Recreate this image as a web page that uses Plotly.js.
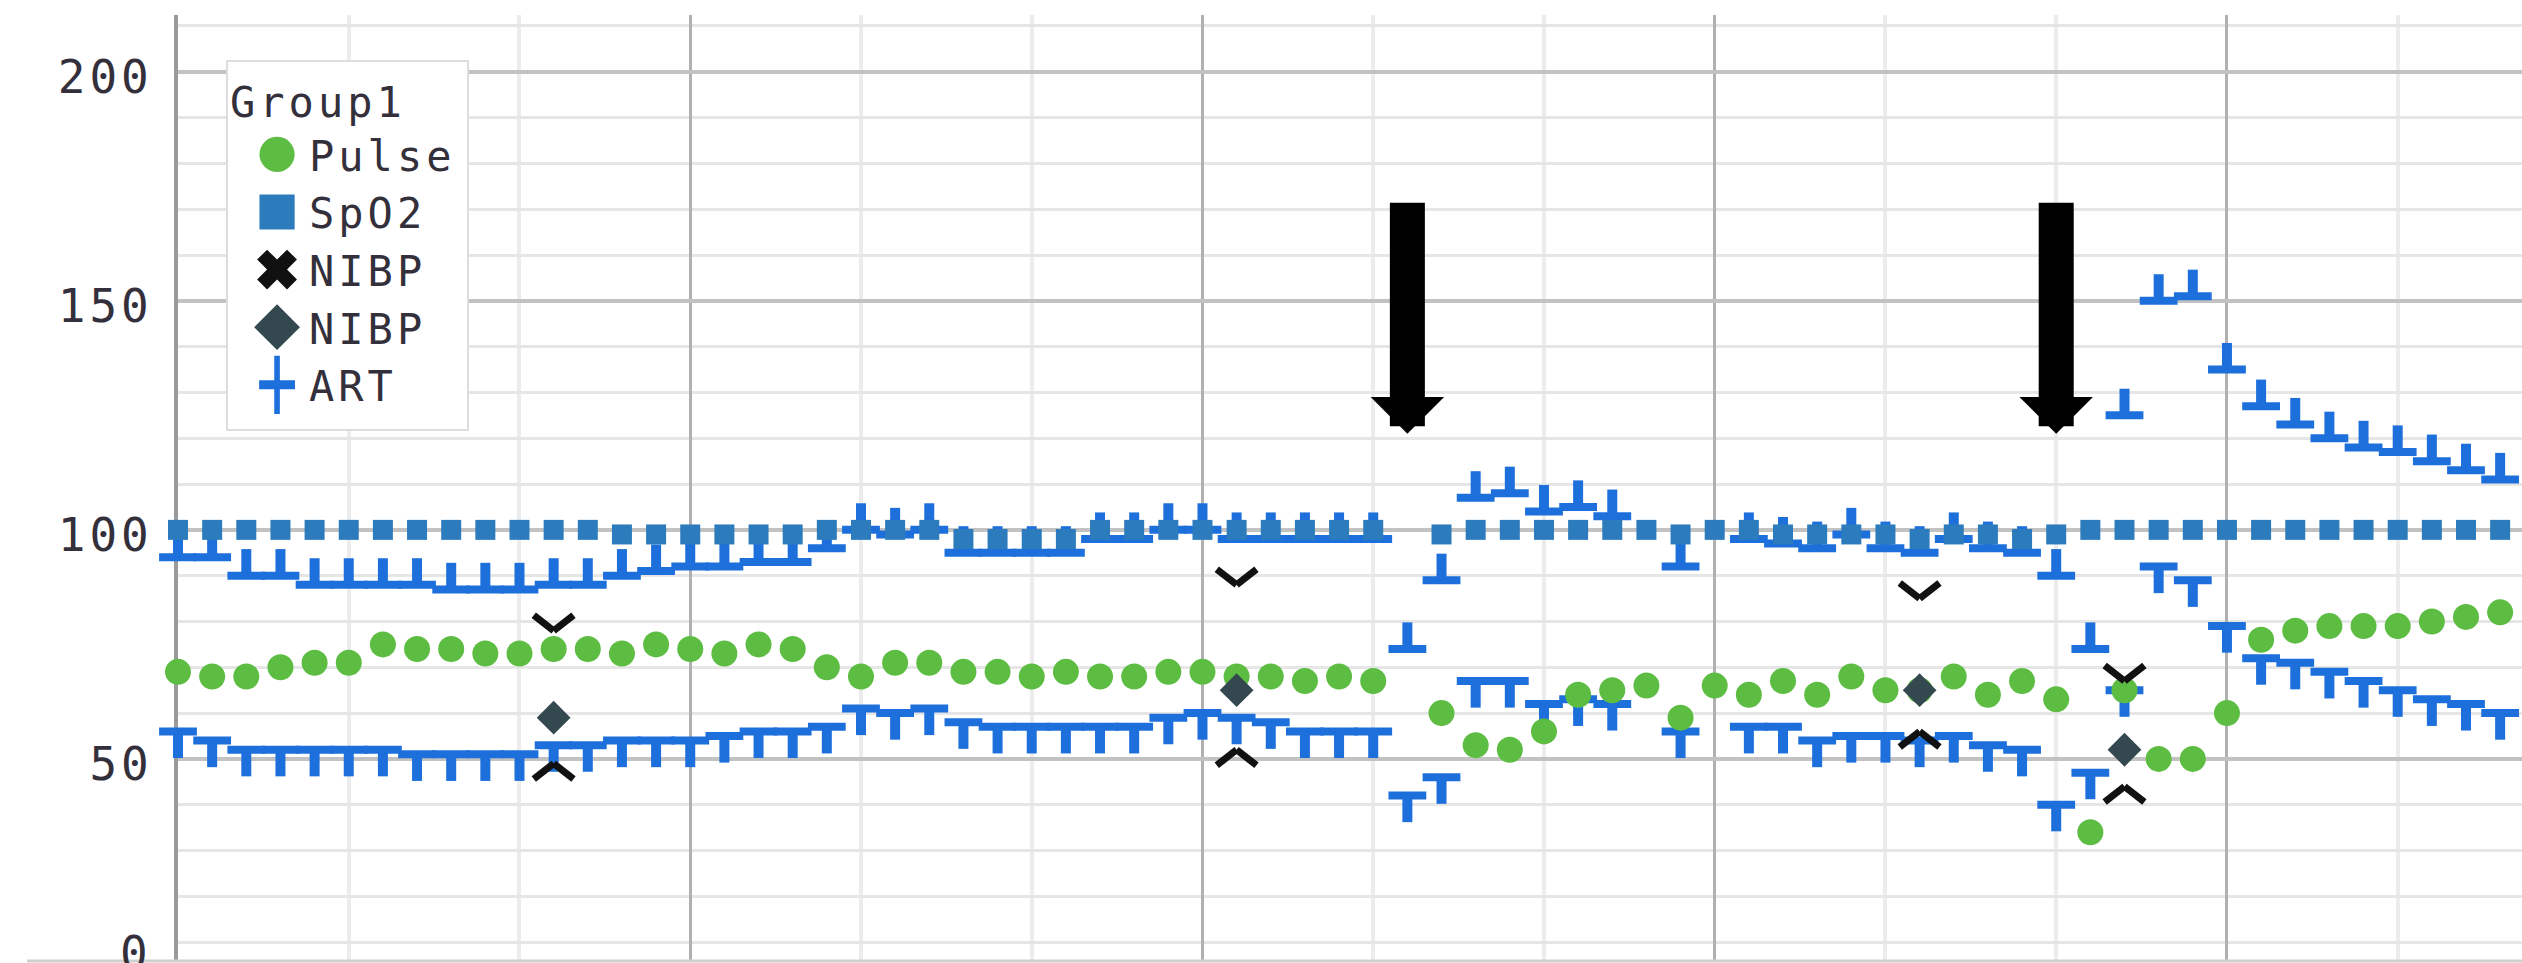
<!DOCTYPE html>
<html><head><meta charset="utf-8">
<script src="https://cdn.plot.ly/plotly-3.0.1.min.js"></script>
<style>
html,body{margin:0;padding:0;background:#fff;overflow:hidden}
#chart{width:2522px;height:963px}
#chart .ytick text{letter-spacing:4px}
#chart text.legendtext,#chart text.legendtitletext{letter-spacing:4px}
</style>
</head><body><div id="chart"></div>
<script>
// time index (one reading per interval)
const minute = [0,1,2,3,4,5,6,7,8,9,10,11,12,13,14,15,16,17,18,19,20,21,22,23,24,25,26,27,28,29,30,31,32,33,34,35,36,37,38,39,40,41,42,43,44,45,46,47,48,49,50,51,52,53,54,55,56,57,58,59,60,61,62,63,64,65,66,67,68,69];
const pulse = [69,68,68,70,71,71,75,74,74,73, 73,74,74,73,75,74,73,75,74,70, 68,71,71,69,69,68,69,68,68,69, 69,68,68,67,68,67,null,60,53,52, 56,64,65,66,59,66,64,67,64,68, 65,65,68,64,67,63,34,65,50,50, 60,76,78,79,79,79,80,81,82,82];
const spo2 = [100,100,100,100,100,100,100,100,100,100, 100,100,100,99,99,99,99,99,99,100, 100,100,100,98,98,98,98,100,100,100, 100,100,100,100,100,100,null,99,100,100, 100,100,100,100,99,100,100,99,99,99, 99,98,99,99,98,99,100,100,100,100, 100,100,100,100,100,100,100,100,100,100];
const artSys = [94,94,90,90,88,88,88,88,87,87, 87,88,88,90,91,92,92,93,93,96, 100,99,100,95,95,95,95,98,98,100, 100,98,98,98,98,98,74,89,107,108, 104,105,103,null,92,null,98,97,96,99, 96,95,98,96,95,90,74,125,150,151, 135,127,123,120,118,117,115,113,111,109];
const artDia = [56,54,52,52,52,52,52,51,51,51, 51,53,53,54,54,54,55,56,56,57, 61,60,61,58,57,57,57,57,57,59, 60,59,58,56,56,56,42,46,67,67, 62,63,62,null,56,null,57,57,54,55, 55,54,55,53,52,40,47,65,92,89, 79,72,71,69,67,65,63,62,60,58];
const nibpAt = [11,31,51,57];
const nibpSys = [78,88,85,67];
const nibpDia = [49,52,56,44];
const nibpMean = [59,65,65,52];
const arrowAt = [36,55];
const arrowTip = [121,121];

const ART = '#1d6fdb', SPO2 = '#2c7cbd', PULSE = '#5cbd42', NIBPD = '#33494f', BLACK = '#111111';
const FONT = 'DejaVu Sans Mono';
const TXT = '#33303c';

function lineMarker(x, y, sym, size, width, color, angle, standoff) {
  return {type:'scatter', mode:'markers', x:x, y:y, showlegend:false, cliponaxis:false, hoverinfo:'skip',
    marker:{symbol:sym, size:size, angle:angle, standoff:standoff, color:color, line:{color:color, width:width}}};
}

const data = [
  lineMarker(minute, artSys, 'line-ew', 27, 8, ART, 0, 0),
  lineMarker(minute, artSys, 'line-ns', 19, 10, ART, 180, 13.3),
  lineMarker(minute, artDia, 'line-ew', 27, 8, ART, 0, 0),
  lineMarker(minute, artDia, 'line-ns', 19, 10, ART, 0, 13.3),
  {type:'scatter', mode:'markers', name:'SpO2', legendrank:2, x:minute, y:spo2, cliponaxis:false,
    marker:{symbol:'square', size:20, color:SPO2, line:{width:0}}},
  {type:'scatter', mode:'markers', name:'Pulse', legendrank:1, x:minute, y:pulse, cliponaxis:false,
    marker:{symbol:'circle', size:26, color:PULSE, line:{width:0}}},
  {type:'scatter', mode:'markers', name:'NIBP', legendrank:4, x:nibpAt, y:nibpMean, cliponaxis:false,
    marker:{symbol:'diamond', size:26, color:NIBPD, line:{width:0}}},
  lineMarker(nibpAt, nibpSys, 'line-ns', 18, 7, BLACK, 128, 12.6),
  lineMarker(nibpAt, nibpSys, 'line-ns', 18, 7, BLACK, 232, 12.6),
  lineMarker(nibpAt, nibpDia, 'line-ns', 18, 7, BLACK, 52, 12.6),
  lineMarker(nibpAt, nibpDia, 'line-ns', 18, 7, BLACK, 308, 12.6),
  {type:'scatter', mode:'markers', name:'NIBP', legendrank:3, x:[null], y:[null],
    marker:{symbol:'x', size:16, color:BLACK, line:{width:0}}},
  {type:'scatter', mode:'markers', name:'ART', legendrank:5, x:[null], y:[null],
    marker:{symbol:'cross-thin', size:16, color:ART, line:{color:ART, width:3.5}}}
];

const annotations = arrowAt.map(function(x, k){
  return {x:x, y:arrowTip[k], xref:'x', yref:'y', text:' ', showarrow:true, arrowhead:1,
    arrowsize:0.35, arrowwidth:35, arrowcolor:'#000', ax:0, ay:-233, font:{size:1}};
});
annotations.push({xref:'paper', yref:'paper', x:-0.0119, y:0.0074, xanchor:'right', yanchor:'middle',
  text:'0', showarrow:false, font:{family:FONT, size:46, color:TXT}});

const layout = {
  width:2522, height:963,
  margin:{l:178, r:0, t:15, b:3, pad:0},
  paper_bgcolor:'#ffffff', plot_bgcolor:'#ffffff',
  showlegend:true,
  legend:{x:0.0205, y:0.9524, xanchor:'left', yanchor:'top', bgcolor:'#ffffff', bordercolor:'#dddddd', borderwidth:2,
    font:{family:FONT, size:42, color:TXT}, title:{text:'Group1', font:{family:FONT, size:42, color:TXT}},
    indentation:30, tracegroupgap:0, itemclick:false, itemdoubleclick:false},
  xaxis:{range:[0, 68.64], tick0:0, dtick:15, showgrid:true, gridcolor:'#b0b0b0', gridwidth:3,
    minor:{dtick:5, tick0:0, showgrid:true, gridcolor:'#ececec', gridwidth:4},
    showticklabels:false, ticks:'', zeroline:false, showline:false, fixedrange:true},
  yaxis:{range:[6.1, 212.4], tick0:0, dtick:50, showgrid:true, gridcolor:'#c2c2c2', gridwidth:4,
    minor:{dtick:10, tick0:0, showgrid:true, gridcolor:'#e6e6e6', gridwidth:3},
    showline:true, linecolor:'#9a9a9a', linewidth:4, zeroline:false, ticks:'',
    tickfont:{family:FONT, size:46, color:TXT}, ticklabelstandoff:12, ticklabelshift:5,
    layer:'below traces', fixedrange:true},
  shapes:[{type:'line', xref:'paper', yref:'paper', x0:-0.0644, x1:1, y0:-0.001, y1:-0.001, line:{color:'#cfcfcf', width:3}}],
  annotations:annotations
};

Plotly.newPlot('chart', data, layout, {staticPlot:true, displayModeBar:false}).then(function(gd){
  const scales = ['scale(2.2)','scale(2.2)','scale(2.2)','scale(2.2)','scale(1.6,2.6)'];
  const lg = gd.querySelector('.legend');
  if (!lg) return;
  lg.querySelectorAll('.traces').forEach(function(tr, k){
    tr.querySelectorAll('path.scatterpts').forEach(function(p){
      p.setAttribute('transform', 'translate(19,0) ' + (scales[k] || ''));
    });
    const t = tr.querySelector('text.legendtext');
    if (t) t.setAttribute('x', (parseFloat(t.getAttribute('x')) || 0) + 11);
    const m = /translate\(([-\d.]+)[ ,]+([-\d.]+)\)/.exec(tr.getAttribute('transform') || '');
    if (m) tr.setAttribute('transform', 'translate(' + m[1] + ',' + (parseFloat(m[2]) + 4) + ')');
  });
  const W = 241, H = 369;
  const bg = lg.querySelector('rect.bg');
  if (bg) { bg.setAttribute('width', W); bg.setAttribute('height', H); }
  const sb = lg.querySelector('.scrollbox');
  const cp = sb && (sb.getAttribute('clip-path') || sb.style.clipPath || '');
  const mm = cp && /#([^)"'\s]+)/.exec(cp);
  if (mm) {
    const cr = document.getElementById(mm[1]);
    const r = cr && cr.querySelector('rect');
    if (r) { r.setAttribute('width', W + 4); r.setAttribute('height', H + 4); }
  }
});
</script></body></html>
